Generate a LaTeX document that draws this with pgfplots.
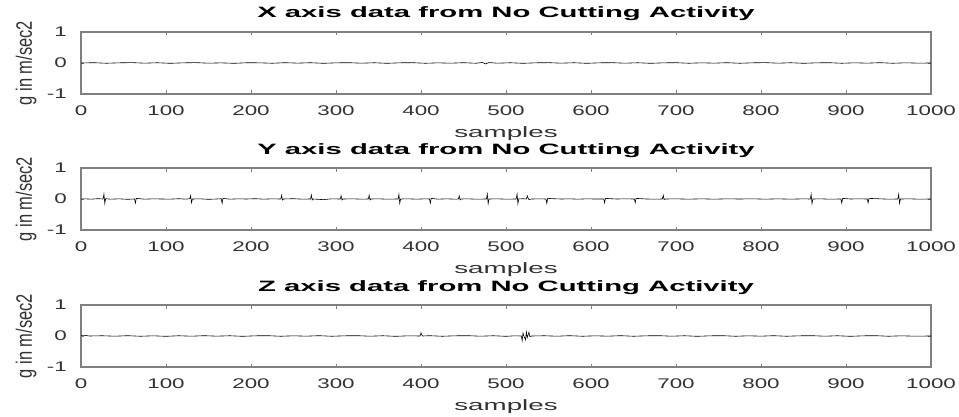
\documentclass[border=0pt]{standalone}
\usepackage{pgfplots}
\pgfplotsset{compat=1.18}
\usepackage{fontspec}
\setmainfont{Liberation Sans}
\newfontfamily\tickf[FakeStretch=1.6]{Liberation Sans}
\newfontfamily\titlef[FakeStretch=1.95]{Liberation Sans}
\newfontfamily\labf[FakeStretch=1.85]{Liberation Sans}
\definecolor{axisgray}{RGB}{128,128,128}
\definecolor{labgray}{RGB}{50,50,50}
\pgfplotsset{
  mystyle/.style={
    scale only axis, width=850pt, height=62pt, anchor=south west,
    xmin=0, xmax=1000, ymin=-1, ymax=1,
    xtick={0,100,...,1000}, ytick={-1,0,1},
    axis line style={draw=axisgray, line width=1.3pt},
    major tick length=3.5pt,
    tick style={draw=axisgray, line width=0.9pt},
    /pgf/number format/assume math mode=true,
    /pgf/number format/1000 sep={},
    ticklabel style={font=\tickf\fontsize{14}{16}\selectfont, text=labgray},
    xticklabel style={inner sep=0pt, anchor=north, yshift=-12pt},
    yticklabel style={inner sep=0pt, anchor=east, xshift=-14pt},
    xlabel={samples},
    xlabel style={font=\labf\fontsize{15}{18}\selectfont, text=labgray,
      at={(axis description cs:0.5,0)}, anchor=base, yshift=-43pt, inner sep=0pt},
    ylabel={g in m/sec2},
    ylabel style={font=\fontsize{16.5}{18}\selectfont, text=labgray,
      at={(axis description cs:-0.0647,0.5)}, anchor=center, inner sep=0pt, yscale=1.35},
    title style={font=\titlef\bfseries\fontsize{15}{18}\selectfont, text=black,
      at={(axis description cs:0.5,1)}, anchor=base, yshift=8pt, inner sep=0pt},
  }
}
\begin{document}
\begin{tikzpicture}[x=1pt,y=1pt]
\path[use as bounding box] (0,0) rectangle (959,416);
% X axis
\begin{axis}[mystyle, at={(81pt,322pt)}, title={X axis data from No Cutting Activity}]
\addplot[black, line width=0.6pt, mark=none] coordinates {
(0,0) (15,0.01) (30,-0.008) (45,0.006) (60,0.012) (75,-0.005) (90,0.008) (105,-0.01)
(120,0.005) (135,0.012) (150,-0.006) (165,0.004) (180,-0.01) (195,0.008) (210,0.006)
(225,-0.008) (240,0.01) (255,-0.004) (270,0.009) (285,-0.01) (300,0.005) (315,0.01)
(330,-0.006) (345,0.008) (360,-0.01) (375,0.006) (390,0.01) (405,-0.008) (420,0.005)
(435,-0.006) (450,0.01) (465,-0.008) (472,0.02) (476,-0.03) (480,0.015) (490,-0.006)
(505,0.008) (520,-0.01) (535,0.006) (550,0.01) (565,-0.005) (580,0.008) (595,-0.01)
(610,0.006) (625,0.01) (640,-0.006) (655,0.008) (670,-0.01) (685,0.005) (700,0.01)
(715,-0.008) (730,0.006) (745,-0.005) (760,0.01) (775,-0.008) (790,0.006) (805,0.012)
(820,-0.006) (835,0.008) (850,-0.01) (865,0.005) (880,0.01) (895,-0.008) (910,0.006)
(925,-0.005) (940,0.01) (955,-0.008) (970,0.006) (985,-0.004) (1000,0)
};
\end{axis}
% Y axis
\begin{axis}[mystyle, at={(81pt,186pt)}, title={Y axis data from No Cutting Activity}]
\addplot[black, line width=0.6pt, mark=none] coordinates {
(0,0) (5,0.005) (12,-0.005) (20,0.01) (26,0) (27,0.16) (28,-0.14) (29,0.01)
(35,-0.005) (45,0.005) (55,-0.01) (63,0) (64,-0.13) (65,0.02) (75,-0.005) (85,0.005)
(95,0) (105,-0.005) (115,0.01) (123,-0.005) (128,0.01) (129,0.11) (130,-0.12) (131,0)
(140,0.005) (150,-0.01) (160,0) (165,0.01) (166,-0.14) (167,0.02) (175,-0.005)
(185,0.005) (195,0) (205,0.01) (215,-0.005) (225,0.005) (235,0) (236,0.12) (237,-0.03)
(238,0) (250,0.01) (260,-0.005) (270,0) (271,0.13) (272,-0.03) (273,0) (285,-0.02)
(295,0.005) (305,0) (306,0.11) (307,-0.03) (308,0) (320,0.005) (330,-0.005) (338,0)
(339,0.12) (340,-0.03) (341,0) (350,0.005) (360,-0.005) (373,0) (374,0.15) (375,-0.14)
(376,0) (385,0.005) (395,-0.005) (405,0.005) (410,0) (411,-0.13) (412,0.02) (420,-0.005)
(430,0.005) (440,-0.005) (444,0) (445,0.1) (446,-0.03) (447,0) (455,0.005) (465,-0.005)
(477,0) (478,0.16) (479,-0.15) (480,0) (490,0.005) (500,-0.005) (512,0) (513,0.16)
(514,-0.15) (515,0) (520,0.01) (524,0) (525,0.1) (526,0.03) (527,-0.02) (530,0)
(540,0.005) (547,0) (548,-0.14) (549,0.02) (555,0.01) (565,0) (575,0.005) (585,-0.005)
(595,0.005) (605,0) (615,0) (616,-0.12) (617,0.02) (630,0) (640,0.005) (651,0)
(652,-0.12) (653,0.02) (665,0) (675,-0.005) (684,0) (685,0.12) (686,-0.02) (687,0)
(700,0.005) (715,-0.005) (730,0.005) (745,-0.005) (760,0.005) (775,0) (790,0.006)
(805,-0.005) (820,0.005) (835,-0.005) (850,0.005) (858,0) (859,0.15) (860,-0.15)
(861,0) (870,0.005) (880,-0.005) (894,0) (895,-0.13) (896,0.02) (905,0) (915,0.005)
(925,0) (926,-0.12) (927,0.02) (940,0.005) (950,-0.005) (961,0) (962,0.15) (963,-0.14)
(964,0) (975,0.005) (985,-0.005) (1000,0)
};
\end{axis}
% Z axis
\begin{axis}[mystyle, at={(81pt,49pt)}, title={Z axis data from No Cutting Activity}]
\addplot[black, line width=0.6pt, mark=none] coordinates {
(0,0.02) (5,0.02) (10,0) (25,0.008) (40,-0.006) (55,0.01) (70,-0.008) (85,0.006)
(100,-0.01) (115,0.008) (130,-0.006) (145,0.01) (160,-0.005) (175,0.008) (190,-0.01)
(205,0.006) (220,0.01) (235,-0.008) (250,0.006) (265,-0.005) (280,0.01) (295,-0.008)
(310,0.006) (325,0.01) (340,-0.006) (355,0.008) (370,-0.01) (385,0.006) (399,0)
(400,0.1) (401,0.03) (402,0) (410,0.01) (425,-0.008) (440,0.006) (455,0.01)
(470,-0.006) (485,0.008) (500,-0.01) (510,0.006) (518,0) (519,-0.15) (520,0.1)
(521,0) (523,-0.12) (524,0.13) (525,-0.05) (527,0.12) (528,-0.02) (530,0)
(545,0.008) (560,-0.006) (575,0.01) (590,-0.008) (605,0.006) (620,-0.005) (635,0.01)
(650,-0.008) (665,0.006) (680,0.01) (695,-0.006) (710,0.008) (725,-0.01) (740,0.006)
(755,0.01) (770,-0.008) (785,0.006) (800,-0.005) (815,0.01) (830,-0.008) (845,0.006)
(860,0.01) (875,-0.006) (890,0.008) (905,-0.01) (920,0.006) (935,0.01) (950,-0.008)
(965,0.006) (980,-0.005) (1000,0)
};
\end{axis}
\end{tikzpicture}
\end{document}
